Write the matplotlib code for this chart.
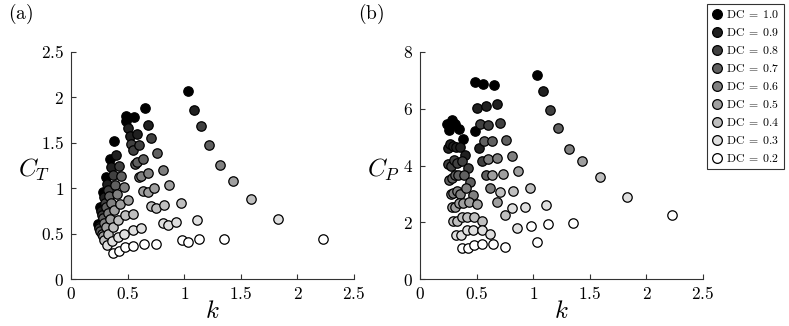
import matplotlib
matplotlib.use("Agg")
import matplotlib.pyplot as plt
from matplotlib.lines import Line2D

plt.rcParams['mathtext.fontset'] = 'cm'
plt.rcParams['font.family'] = ['DejaVu Serif']

dc_values = [1.0, 0.9, 0.8, 0.7, 0.6, 0.5, 0.4, 0.3, 0.2]

# each configuration: values for DC = 1.0 ... 0.2
k_A = [1.03, 1.09, 1.15, 1.22, 1.32, 1.43, 1.59, 1.83, 2.23]
ct_A = [2.07, 1.86, 1.68, 1.48, 1.26, 1.08, 0.88, 0.66, 0.44]
cp_A = [7.18, 6.61, 5.94, 5.31, 4.59, 4.15, 3.58, 2.89, 2.26]

k_B = [0.65, 0.68, 0.71, 0.76, 0.81, 0.87, 0.97, 1.11, 1.35]
ct_B = [1.88, 1.70, 1.55, 1.39, 1.20, 1.04, 0.84, 0.65, 0.44]
cp_B = [6.85, 6.18, 5.50, 4.91, 4.32, 3.82, 3.19, 2.61, 1.99]

k_M1 = [0.485, 0.50, 0.53, 0.565, 0.60, 0.64, 0.71, 0.81, 0.98]
ct_M1 = [1.79, 1.66, 1.49, 1.27, 1.12, 0.97, 0.80, 0.62, 0.43]
cp_M1 = [6.96, 6.02, 5.47, 4.85, 4.24, 3.65, 3.08, 2.49, 1.88]

k_M2 = [0.49, 0.52, 0.547, 0.58, 0.62, 0.68, 0.75, 0.86, 1.035]
ct_M2 = [1.74, 1.58, 1.42, 1.29, 1.13, 0.96, 0.78, 0.60, 0.41]
cp_M2 = [5.20, 4.63, 4.16, 3.68, 3.22, 2.73, 2.26, 1.79, 1.32]

k_M3 = [0.553, 0.585, 0.60, 0.64, 0.68, 0.735, 0.82, 0.93, 1.13]
ct_M3 = [1.78, 1.60, 1.48, 1.32, 1.17, 1.00, 0.82, 0.63, 0.44]
cp_M3 = [6.88, 6.08, 5.44, 4.85, 4.28, 3.71, 3.11, 2.52, 1.93]

k_L1 = [0.24, 0.245, 0.25, 0.26, 0.27, 0.28, 0.29, 0.32, 0.375]
ct_L1 = [0.61, 0.58, 0.56, 0.53, 0.50, 0.47, 0.43, 0.37, 0.29]
cp_L1 = [5.45, 4.60, 4.05, 3.50, 3.00, 2.55, 2.05, 1.55, 1.08]

k_L2 = [0.26, 0.265, 0.27, 0.28, 0.29, 0.305, 0.325, 0.36, 0.42]
ct_L2 = [0.79, 0.75, 0.71, 0.67, 0.62, 0.57, 0.50, 0.415, 0.31]
cp_L2 = [5.25, 4.75, 4.00, 3.55, 3.02, 2.55, 2.05, 1.55, 1.08]

k_L3 = [0.285, 0.29, 0.30, 0.31, 0.325, 0.345, 0.37, 0.415, 0.48]
ct_L3 = [0.96, 0.90, 0.84, 0.79, 0.73, 0.66, 0.57, 0.46, 0.35]
cp_L3 = [5.60, 4.70, 4.20, 3.68, 3.10, 2.67, 2.20, 1.71, 1.20]

k_L4 = [0.31, 0.315, 0.325, 0.34, 0.355, 0.38, 0.415, 0.47, 0.55]
ct_L4 = [1.12, 1.05, 0.98, 0.91, 0.84, 0.76, 0.65, 0.50, 0.36]
cp_L4 = [5.45, 4.65, 4.10, 3.65, 3.00, 2.67, 2.20, 1.71, 1.22]

k_L5 = [0.345, 0.355, 0.37, 0.385, 0.405, 0.43, 0.475, 0.545, 0.645]
ct_L5 = [1.32, 1.23, 1.14, 1.04, 0.94, 0.83, 0.70, 0.54, 0.38]
cp_L5 = [5.30, 4.65, 4.15, 3.68, 3.20, 2.70, 2.20, 1.73, 1.25]

k_L6 = [0.38, 0.40, 0.42, 0.44, 0.465, 0.50, 0.55, 0.62, 0.75]
ct_L6 = [1.52, 1.37, 1.25, 1.13, 1.01, 0.87, 0.72, 0.56, 0.39]
cp_L6 = [4.95, 4.38, 3.90, 3.43, 2.96, 2.65, 2.05, 1.58, 1.12]

configs_k = [k_A, k_B, k_M1, k_M2, k_M3, k_L1, k_L2, k_L3, k_L4, k_L5, k_L6]
configs_ct = [ct_A, ct_B, ct_M1, ct_M2, ct_M3, ct_L1, ct_L2, ct_L3, ct_L4, ct_L5, ct_L6]
configs_cp = [cp_A, cp_B, cp_M1, cp_M2, cp_M3, cp_L1, cp_L2, cp_L3, cp_L4, cp_L5, cp_L6]

x_ticks = [0, 0.5, 1, 1.5, 2, 2.5]
ct_ticks = [0, 0.5, 1, 1.5, 2, 2.5]
cp_ticks = [0, 2, 4, 6, 8]


def gray_for(dc):
    g = (1.0 - dc) / 0.8
    return (g, g, g)


W, H = 789, 326
fig = plt.figure(figsize=(W / 100, H / 100), dpi=100)
bottom = (H - 279) / H
height = (279 - 52) / H
ax_a = fig.add_axes([71 / W, bottom, 283 / W, height])
ax_b = fig.add_axes([420 / W, bottom, 283 / W, height])

ms = 46
for ax, ys, yt, ylab, ymax in [(ax_a, configs_ct, ct_ticks, r'$C_T$', 2.5),
                               (ax_b, configs_cp, cp_ticks, r'$C_P$', 8)]:
    for j, dc in enumerate(dc_values):
        xs = [c[j] for c in configs_k]
        yv = [c[j] for c in ys]
        ax.scatter(xs, yv, s=ms, c=[gray_for(dc)], edgecolors='black',
                   linewidths=0.9, zorder=3 + j, clip_on=False)
    ax.set_xlim(0, 2.5)
    ax.set_ylim(0, ymax)
    ax.set_xticks(x_ticks)
    ax.set_xticklabels([r'$%g$' % t for t in x_ticks])
    ax.set_yticks(yt)
    ax.set_yticklabels([r'$%g$' % t for t in yt])
    for s in ['top', 'right']:
        ax.spines[s].set_visible(False)
    for s in ['left', 'bottom']:
        ax.spines[s].set_linewidth(0.8)
        ax.spines[s].set_color('#333333')
    ax.tick_params(direction='in', length=3.5, width=0.8, labelsize=12.5,
                   pad=5, colors='#333333', labelcolor='black')
    ax.set_xlabel(r'$k$', fontsize=18, va='center')
    ax.xaxis.set_label_coords(0.5, -0.145)
    ax.set_ylabel(ylab, fontsize=18, rotation=0, va='center', ha='center')
    ax.yaxis.set_label_coords(-0.13, 0.48)

fig.text(8 / W, 1 - 14 / H, r'$\mathrm{(a)}$', fontsize=14, va='center', ha='left')
fig.text(358 / W, 1 - 14 / H, r'$\mathrm{(b)}$', fontsize=14, va='center', ha='left')

handles = [Line2D([], [], ls='none', marker='o', markersize=7,
                  markerfacecolor=gray_for(dc), markeredgecolor='black',
                  markeredgewidth=0.9) for dc in dc_values]
labels = [r'$\mathrm{DC}\;=\;%.1f$' % dc for dc in dc_values]
leg = fig.legend(handles, labels, loc='upper right',
                 bbox_to_anchor=(784 / W, 1 - 4 / H), fontsize=8.5,
                 frameon=True, fancybox=False, edgecolor='black',
                 labelspacing=0.42, handletextpad=0.3, handlelength=1.0,
                 borderpad=0.35, borderaxespad=0)
leg.get_frame().set_linewidth(0.8)

fig.savefig('out.png', dpi=100)
